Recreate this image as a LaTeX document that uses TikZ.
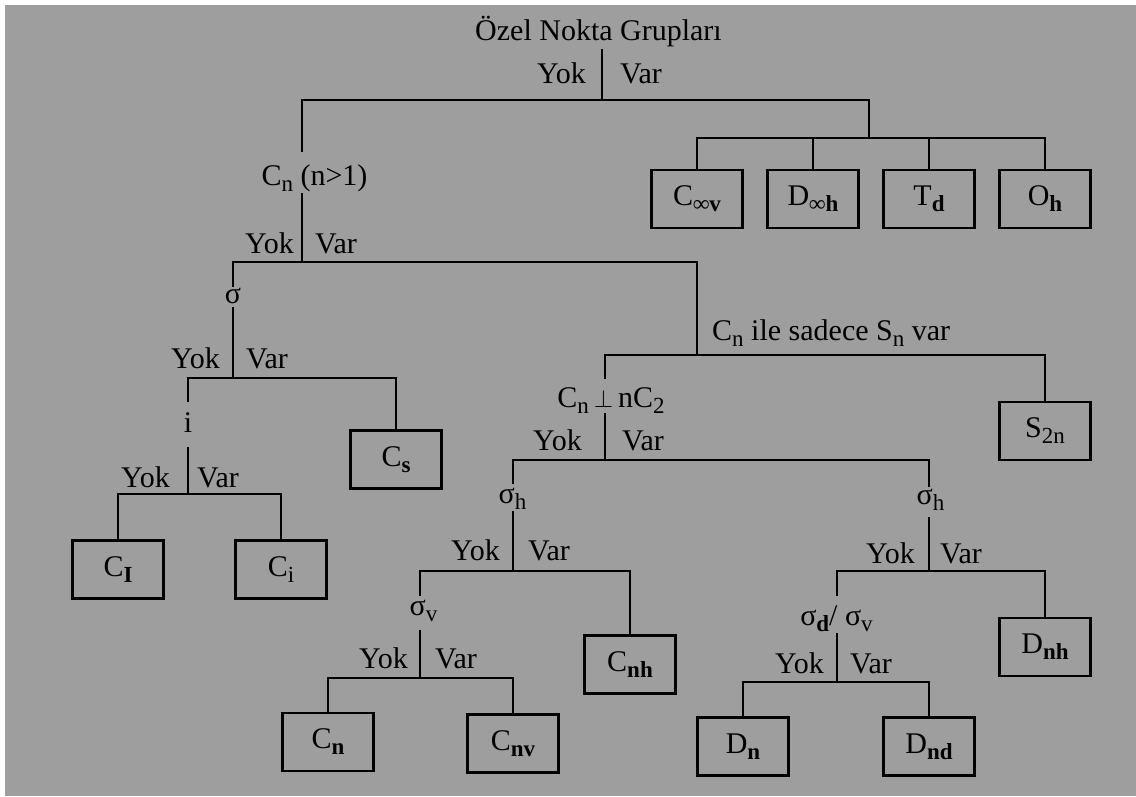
\documentclass[tikz,border=0pt]{standalone}
\usepackage{fontspec}
\setmainfont{Liberation Serif}
\definecolor{bg}{RGB}{158,158,158}
\newcommand{\lsub}[1]{\raisebox{-6pt}{\fontsize{23}{23}\selectfont #1}}
\newcommand{\bsub}[1]{\raisebox{-6pt}{\fontsize{23}{23}\selectfont\bfseries #1}}
\begin{document}
\begin{tikzpicture}[x=1pt,y=-1pt,
  every node/.style={font=\fontsize{30}{36}\selectfont, inner sep=0pt, text=black},
  grp/.style={draw, line width=2.6pt, minimum width=91pt, minimum height=58pt},
  conn/.style={line width=2.6pt},
  yok/.style={anchor=base east},
  var/.style={anchor=base west},
  lbl/.style={anchor=base}]
\useasboundingbox (0,0) rectangle (1136,796);
\fill[bg] (5,5) rectangle (1136,796);

% ---------- top ----------
\node[lbl] (t0) at (598.5,40) {Özel Nokta Grupları};
\node[yok] (y0) at (586,83) {Yok};
\node[var] (v0) at (620,83) {Var};
\coordinate (c0a) at (602,49);
\coordinate (c0b) at (602,100);
\draw[conn] (c0a) -- (c0b);

\coordinate (c1a) at (302,152);
\coordinate (c1b) at (302,100);
\coordinate (c1c) at (869,100);
\coordinate (c1d) at (869,138);
\draw[conn] (c1a) -- (c1b) -- (c1c) -- (c1d);

\node[grp] (bCinf) at (697,199) {C\bsub{∞v}};
\node[grp] (bDinf) at (813,199) {D\bsub{∞h}};
\node[grp] (bTd)   at (929,199) {T\bsub{d}};
\node[grp] (bOh)   at (1045,199) {O\bsub{h}};
\coordinate (c2a) at (697,138);
\coordinate (c2b) at (1045,138);
\coordinate (c2c) at (813,138);
\coordinate (c2d) at (929,138);
\draw[conn] (bCinf.north) -- (c2a) -- (c2b) -- (bOh.north);
\draw[conn] (c2c) -- (bDinf.north);
\draw[conn] (c2d) -- (bTd.north);

% ---------- C_n (n>1) ----------
\node[lbl] (n1) at (314.5,185) {C\lsub{n} (n>1)};
\node[yok] (y1) at (294,253) {Yok};
\node[var] (v1) at (315,253) {Var};
\coordinate (c3a) at (302,193);
\coordinate (c3b) at (302,262);
\draw[conn] (c3a) -- (c3b);
\coordinate (c4a) at (233,287);
\coordinate (c4b) at (233,262);
\coordinate (c4c) at (697,262);
\coordinate (c4d) at (697,355);
\draw[conn] (c4a) -- (c4b) -- (c4c) -- (c4d);

% ---------- sigma ----------
\node[lbl] (s1) at (233,303) {σ};
\node[yok] (y2) at (220,368) {Yok};
\node[var] (v2) at (246,368) {Var};
\coordinate (c5a) at (233,307);
\coordinate (c5b) at (233,378);
\draw[conn] (c5a) -- (c5b);
\node[grp] (bCs) at (396,459.5) {C\bsub{s}};
\coordinate (c6a) at (188,402);
\coordinate (c6b) at (188,378);
\coordinate (c6c) at (396,378);
\draw[conn] (c6a) -- (c6b) -- (c6c) -- (bCs.north);

% ---------- i ----------
\node[lbl] (i1) at (188,432) {i};
\node[yok] (y3) at (170,487) {Yok};
\node[var] (v3) at (197,487) {Var};
\coordinate (c7a) at (188,447);
\coordinate (c7b) at (188,494);
\draw[conn] (c7a) -- (c7b);
\node[grp] (bCI) at (118,569.5) {C\bsub{I}};
\node[grp] (bCi) at (281,569.5) {C\lsub{i}};
\coordinate (c8a) at (118,494);
\coordinate (c8b) at (281,494);
\draw[conn] (bCI.north) -- (c8a) -- (c8b) -- (bCi.north);

% ---------- C_n ile sadece S_n var ----------
\node[anchor=base west] (sn) at (712,340) {C\lsub{n} ile sadece S\lsub{n} var};
\node[grp] (bS2n) at (1045,431) {S\lsub{2n}};
\coordinate (c9a) at (605,379);
\coordinate (c9b) at (605,355);
\coordinate (c9c) at (1045,355);
\draw[conn] (c9a) -- (c9b) -- (c9c) -- (bS2n.north);

% ---------- C_n perp nC_2 ----------
\node[lbl] (pp) at (611,407) {C\lsub{n}\,$\perp$\,nC\lsub{2}};
\node[yok] (y4) at (582,450) {Yok};
\node[var] (v4) at (622,450) {Var};
\coordinate (c10a) at (605,413);
\coordinate (c10b) at (605,460);
\draw[conn] (c10a) -- (c10b);
\coordinate (c11a) at (513,484);
\coordinate (c11b) at (513,460);
\coordinate (c11c) at (929,460);
\coordinate (c11d) at (929,487);
\draw[conn] (c11a) -- (c11b) -- (c11c) -- (c11d);

% ---------- sigma_h (left) ----------
\node[lbl] (sh1) at (512.5,503) {σ\lsub{h}};
\node[yok] (y5) at (500,560) {Yok};
\node[var] (v5) at (528,560) {Var};
\coordinate (c12a) at (513,511);
\coordinate (c12b) at (513,571);
\draw[conn] (c12a) -- (c12b);
\node[grp] (bCnh) at (630,664.5) {C\bsub{nh}};
\coordinate (c14a) at (420,596);
\coordinate (c14b) at (420,571);
\coordinate (c14c) at (630,571);
\draw[conn] (c14a) -- (c14b) -- (c14c) -- (bCnh.north);

% ---------- sigma_v ----------
\node[lbl] (sv) at (423.5,615) {σ\lsub{v}};
\node[yok] (y6) at (408,668) {Yok};
\node[var] (v6) at (435,668) {Var};
\coordinate (c15a) at (420,630);
\coordinate (c15b) at (420,678);
\draw[conn] (c15a) -- (c15b);
\node[grp] (bCn) at (328,742) {C\bsub{n}};
\node[grp] (bCnv) at (513,743.5) {C\bsub{nv}};
\coordinate (c16a) at (328,678);
\coordinate (c16b) at (513,678);
\draw[conn] (bCn.north) -- (c16a) -- (c16b) -- (bCnv.north);

% ---------- sigma_h (right) ----------
\node[lbl] (sh2) at (930.5,504) {σ\lsub{h}};
\node[yok] (y7) at (915,563) {Yok};
\node[var] (v7) at (940,563) {Var};
\coordinate (c13a) at (929,517);
\coordinate (c13b) at (929,571);
\draw[conn] (c13a) -- (c13b);
\node[grp] (bDnh) at (1045,647) {D\bsub{nh}};
\coordinate (c17a) at (837,596);
\coordinate (c17b) at (837,571);
\coordinate (c17c) at (1045,571);
\draw[conn] (c17a) -- (c17b) -- (c17c) -- (bDnh.north);

% ---------- sigma_d / sigma_v ----------
\node[lbl] (sdv) at (836.5,625) {σ\bsub{d}/ σ\lsub{v}};
\node[yok] (y8) at (824,673) {Yok};
\node[var] (v8) at (850,673) {Var};
\coordinate (c18a) at (837,633);
\coordinate (c18b) at (837,682);
\draw[conn] (c18a) -- (c18b);
\node[grp] (bDn) at (743,746.5) {D\bsub{n}};
\node[grp] (bDnd) at (929,746.5) {D\bsub{nd}};
\coordinate (c19a) at (743,682);
\coordinate (c19b) at (929,682);
\draw[conn] (bDn.north) -- (c19a) -- (c19b) -- (bDnd.north);
\end{tikzpicture}
\end{document}
